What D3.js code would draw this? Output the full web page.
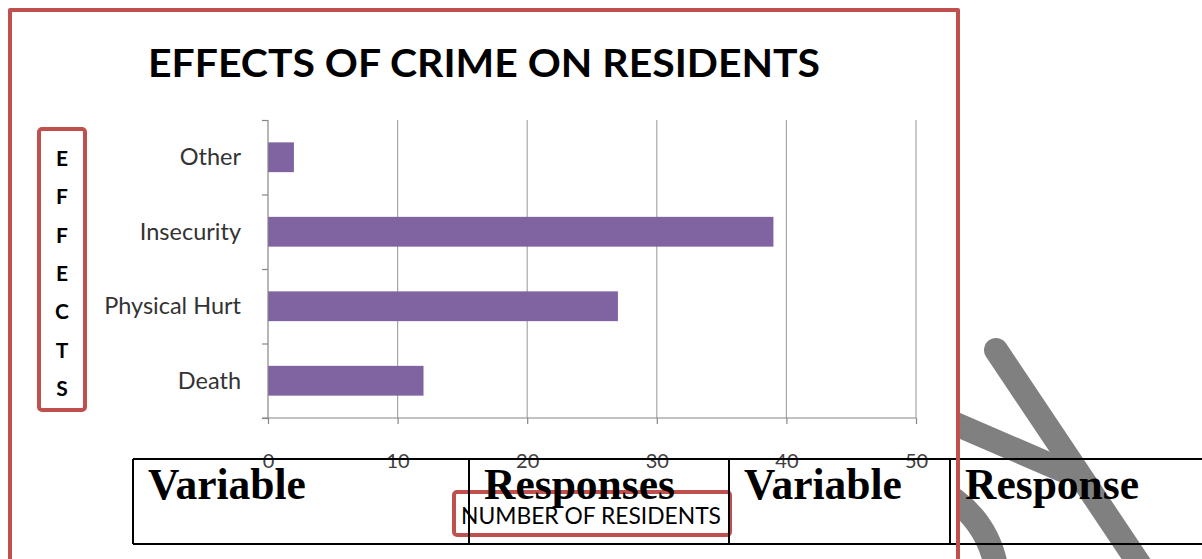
<!DOCTYPE html>
<html>
<head>
<meta charset="utf-8">
<script src="https://cdn.jsdelivr.net/npm/d3@7"></script>
<style>
  html, body { margin: 0; padding: 0; background: #fff; }
  svg { display: block; }
</style>
</head>
<body>
<svg id="chart" width="1202" height="559"></svg>
<script>
// ---- data ----
const categories = ["Other", "Insecurity", "Physical Hurt", "Death"];
const values = [2, 39, 27, 12];
const xTicks = [0, 10, 20, 30, 40, 50];
const chartTitle = "EFFECTS OF CRIME ON RESIDENTS";
const yTitle = "EFFECTS";
const xTitle = "NUMBER OF RESIDENTS";
const tableHeaders = ["Variable", "Responses", "Variable", "Response"];

const svg = d3.select("#chart");
const purple = "#8064a2";
const red = "#c0504d";
const grid = "#a6a6a6";
const sans = "Lato, 'Open Sans', sans-serif";

// ---- watermark strokes (behind everything) ----
const wm = svg.append("g").attr("stroke", "#808080").attr("stroke-width", 24)
  .attr("fill", "none").attr("stroke-linecap", "round");
wm.append("path").attr("d", "M996,350 L1150,580");
wm.append("path").attr("d", "M900,400 L1062,470");
wm.append("path").attr("d", "M930,485 Q992,515 998,580");

// ---- chart area (white) ----
svg.append("rect").attr("x", 10).attr("y", 10).attr("width", 948).attr("height", 560)
  .attr("fill", "#fff");

const x = d3.scaleLinear().domain([0, 50]).range([268, 916]);
const y = d3.scaleBand().domain(categories).range([120, 418])
  .paddingInner(0.6).paddingOuter(0.3);
const yEdge = d3.scaleLinear().domain([0, categories.length]).range([120, 418]);

// gridlines
svg.append("g").selectAll("line").data(xTicks.slice(1)).join("line")
  .attr("x1", d => x(d)).attr("x2", d => x(d))
  .attr("y1", 120).attr("y2", 418)
  .attr("stroke", grid).attr("stroke-width", 1.2);

// bars
svg.append("g").selectAll("rect").data(categories).join("rect")
  .attr("x", x(0)).attr("y", d => y(d))
  .attr("width", (d, i) => x(values[i]) - x(0))
  .attr("height", y.bandwidth())
  .attr("fill", purple);

// y axis line + boundary ticks
const yAx = svg.append("g").attr("transform", `translate(${x(0)},0)`)
  .call(d3.axisLeft(yEdge).tickValues(d3.range(categories.length + 1)).tickSize(6).tickFormat(""));
yAx.selectAll("path,line").attr("stroke", "#868686").attr("stroke-width", 1.2);
yAx.select("path").attr("d", `M0,120V418`);

// category labels
const yLab = svg.append("g").attr("transform", `translate(${x(0)},0)`)
  .call(d3.axisLeft(y).tickSize(0).tickPadding(27));
yLab.select("path").remove();
yLab.selectAll("text").attr("font-family", sans).attr("font-size", 23.5)
  .attr("fill", "#333").attr("dy", "0.35em");

// x axis
const xAx = svg.append("g").attr("transform", "translate(0,418)")
  .call(d3.axisBottom(x).tickValues(xTicks).tickSize(6).tickPadding(30).tickSizeOuter(0));
xAx.select("path").attr("d", `M262,0H916`);
xAx.selectAll("path,line").attr("stroke", "#868686").attr("stroke-width", 1.2);
xAx.selectAll("text").attr("font-family", sans).attr("font-size", 20).attr("fill", "#404040");

// title
svg.append("text").attr("x", 484).attr("y", 77).attr("text-anchor", "middle")
  .attr("font-family", sans).attr("font-weight", "bold").attr("font-size", 39)
  .attr("fill", "#000").attr("textLength", 672).attr("lengthAdjust", "spacingAndGlyphs")
  .text(chartTitle);

// y title box
svg.append("rect").attr("x", 39).attr("y", 129).attr("width", 46).attr("height", 281)
  .attr("rx", 3).attr("fill", "none").attr("stroke", red).attr("stroke-width", 4);
svg.append("g").selectAll("text").data(yTitle.split("")).join("text")
  .attr("x", 62).attr("y", (d, i) => 166 + i * 38.3).attr("text-anchor", "middle")
  .attr("font-family", sans).attr("font-weight", "bold").attr("font-size", 21)
  .attr("fill", "#000").text(d => d);

// x title box
svg.append("rect").attr("x", 454).attr("y", 492).attr("width", 276).attr("height", 43)
  .attr("rx", 3).attr("fill", "none").attr("stroke", red).attr("stroke-width", 4);
svg.append("text").attr("x", 591).attr("y", 524).attr("text-anchor", "middle")
  .attr("font-family", sans).attr("font-size", 23).attr("fill", "#000")
  .attr("textLength", 260).attr("lengthAdjust", "spacingAndGlyphs")
  .text(xTitle);

// ---- table overlay ----
const tbl = svg.append("g").attr("stroke", "#000").attr("stroke-width", 2);
const colX = [133, 469, 729, 950, 1210];
tbl.append("line").attr("x1", colX[0]).attr("x2", 1210).attr("y1", 459).attr("y2", 459);
tbl.append("line").attr("x1", colX[0]).attr("x2", 1210).attr("y1", 544).attr("y2", 544);
colX.slice(0, 4).forEach(cx => {
  tbl.append("line").attr("x1", cx).attr("x2", cx).attr("y1", 459).attr("y2", 544);
});
svg.append("g").selectAll("text").data(tableHeaders).join("text")
  .attr("x", (d, i) => colX[i] + 15).attr("y", 499)
  .attr("font-family", "'Liberation Serif', 'Times New Roman', serif")
  .attr("font-weight", "bold").attr("font-size", 43.5).attr("fill", "#000")
  .text(d => d);

// ---- outer red frame ----
svg.append("path").attr("d", "M10,580 V10 H958 V580")
  .attr("fill", "none").attr("stroke", red).attr("stroke-width", 4)
  .attr("stroke-linejoin", "round");
</script>
</body>
</html>
